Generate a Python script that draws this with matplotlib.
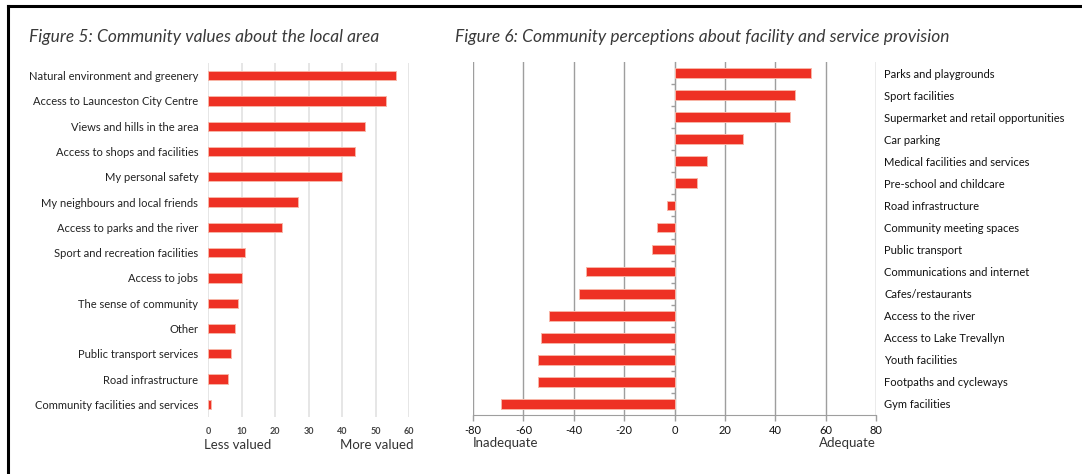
import matplotlib
matplotlib.use("Agg")
import matplotlib.pyplot as plt
from matplotlib.lines import Line2D

# ---------------- data ----------------
values_cats = [
    "Natural environment and greenery",
    "Access to Launceston City Centre",
    "Views and hills in the area",
    "Access to shops and facilities",
    "My personal safety",
    "My neighbours and local friends",
    "Access to parks and the river",
    "Sport and recreation facilities",
    "Access to jobs",
    "The sense of community",
    "Other",
    "Public transport services",
    "Road infrastructure",
    "Community facilities and services",
]
values_vals = [56, 53, 47, 44, 40, 27, 22, 11, 10, 9, 8, 7, 6, 1]
values_ticks = [0, 10, 20, 30, 40, 50, 60]

perc_cats = [
    "Parks and playgrounds",
    "Sport facilities",
    "Supermarket and retail opportunities",
    "Car parking",
    "Medical facilities and services",
    "Pre-school and childcare",
    "Road infrastructure",
    "Community meeting spaces",
    "Public transport",
    "Communications and internet",
    "Cafes/restaurants",
    "Access to the river",
    "Access to Lake Trevallyn",
    "Youth facilities",
    "Footpaths and cycleways",
    "Gym facilities",
]
perc_vals = [54, 48, 46, 27, 13, 9, -3, -7, -9, -35, -38, -50, -53, -54, -54, -69]
perc_ticks = [-80, -60, -40, -20, 0, 20, 40, 60, 80]

title5 = "Figure 5: Community values about the local area"
title6 = "Figure 6: Community perceptions about facility and service provision"

# ---------------- style ----------------
W, H = 1082, 474
RED = "#EE3124"
EDGE = "#F8B4A6"
plt.rcParams["font.family"] = ["Lato", "DejaVu Sans"]

fig = plt.figure(figsize=(W / 100, H / 100), dpi=100)

def fx(px):
    return px / W

def fy(py):
    return 1 - py / H

# border lines (top and left)
fig.add_artist(Line2D([fx(8), 1.0], [fy(6), fy(6)], color="black", lw=2.2))
fig.add_artist(Line2D([fx(8), fx(8)], [fy(6), 0.0], color="black", lw=2.2))

# ---------------- Figure 5 ----------------
ax1 = fig.add_axes([fx(208), fy(417), fx(409 - 208), fy(63) - fy(417)])
n1 = len(values_cats)
y1 = list(range(n1))[::-1]
ax1.barh(y1, values_vals, height=0.37, color=RED, edgecolor=EDGE, linewidth=0.7, zorder=3)
ax1.set_xlim(0, 60)
ax1.set_ylim(-0.5, n1 - 0.5)
ax1.set_yticks(y1)
ax1.set_yticklabels(values_cats)
ax1.set_xticks(values_ticks)
ax1.set_xticklabels([str(t) for t in values_ticks], fontweight="bold")
ax1.tick_params(axis="both", length=0)
ax1.tick_params(axis="y", pad=7, labelsize=8, labelcolor="#222222")
ax1.tick_params(axis="x", pad=7, labelsize=6.5, labelcolor="#444444")
for s in ax1.spines.values():
    s.set_visible(False)
ax1.grid(axis="x", color="#E2E2E2", lw=1.2, zorder=0)
ax1.set_axisbelow(True)

fig.text(fx(29), fy(37), title5, fontsize=12.5, style="italic", color="#3A3A3A",
         va="center", ha="left")
fig.text(fx(204), fy(445), "Less valued", fontsize=9.5, color="#333333", va="center", ha="left")
fig.text(fx(413), fy(445), "More valued", fontsize=9.5, color="#333333", va="center", ha="right")

# ---------------- Figure 6 ----------------
ax2 = fig.add_axes([fx(473), fy(415), fx(876 - 473), fy(62) - fy(415)])
n2 = len(perc_cats)
y2 = list(range(n2))[::-1]
ax2.barh(y2, perc_vals, height=0.44, color=RED, edgecolor=EDGE, linewidth=0.7, zorder=3)
ax2.set_xlim(-80, 80)
ax2.set_ylim(-0.5, n2 - 0.5)
ax2.set_xticks(perc_ticks)
ax2.set_xticklabels([str(t) for t in perc_ticks])
ax2.tick_params(axis="x", labelsize=8, labelcolor="#111111")
ax2.grid(axis="x", color="#9E9E9E", lw=1.0, zorder=0)
ax2.set_axisbelow(True)

ax2.yaxis.set_ticks_position("right")
ax2.set_yticks(y2)
ax2.set_yticklabels(perc_cats)
ax2.tick_params(axis="y", which="major", length=0, pad=6, labelright=True, labelleft=False,
                right=False, left=False, labelsize=8, labelcolor="#111111")
ax2.set_yticks([y - 0.5 for y in range(1, n2)], minor=True)
ax2.tick_params(axis="y", which="minor", left=True, right=False, length=3, color="#9E9E9E", width=1)
ax2.tick_params(axis="x", length=4, color="#9E9E9E", width=1, pad=3)

ax2.spines["top"].set_visible(False)
ax2.spines["right"].set_visible(False)
ax2.spines["left"].set_position(("data", 0))
ax2.spines["left"].set_color("#9E9E9E")
ax2.spines["bottom"].set_color("#9E9E9E")

fig.text(fx(455), fy(37), title6, fontsize=12.5, style="italic", color="#3A3A3A",
         va="center", ha="left")
fig.text(fx(473), fy(443), "Inadequate", fontsize=9.5, color="#333333", va="center", ha="left")
fig.text(fx(876), fy(443), "Adequate", fontsize=9.5, color="#333333", va="center", ha="right")

fig.savefig("out.png", dpi=100)
